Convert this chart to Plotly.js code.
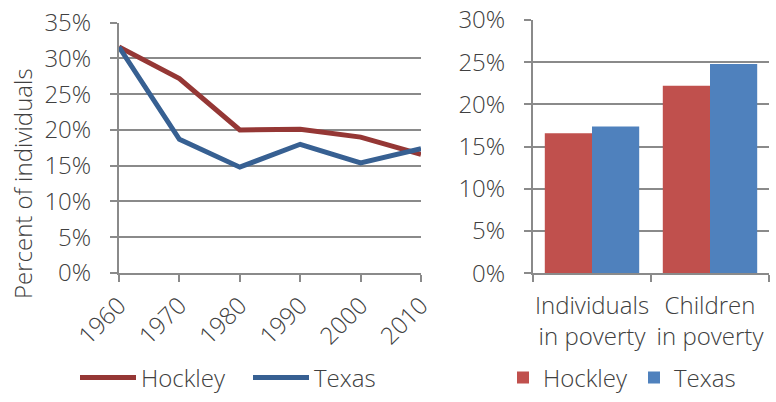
<!DOCTYPE html>
<html><head><meta charset="utf-8">
<script src="https://cdn.plot.ly/plotly-3.0.1.min.js"></script>
<style>html,body{margin:0;padding:0;background:#fff}#chart{width:776px;height:402px}</style>
</head><body><div id="chart"></div>
<script>
const years = [1960, 1970, 1980, 1990, 2000, 2010];
const hockleyTrend = [0.316, 0.272, 0.200, 0.201, 0.190, 0.166];
const texasTrend = [0.316, 0.187, 0.148, 0.180, 0.154, 0.174];
const barCategories = ["Individuals<br>in poverty", "Children<br>in poverty"];
const hockleyBar = [0.166, 0.222];
const texasBar = [0.174, 0.248];
const seriesNames = ["Hockley", "Texas"];

const FONT = {family: "Open Sans, sans-serif", size: 24, color: "#404040", weight: 300};
const TICKFONT = {family: "Open Sans, sans-serif", size: 24, color: "#404040", weight: 300};
const GRID = "#8a8a8a";

const traces = [
  {x: years, y: hockleyTrend, name: seriesNames[0], type: "scatter", mode: "lines",
   line: {color: "#953735", width: 5}, xaxis: "x", yaxis: "y", legend: "legend", cliponaxis: false},
  {x: years, y: texasTrend, name: seriesNames[1], type: "scatter", mode: "lines",
   line: {color: "#376092", width: 5}, xaxis: "x", yaxis: "y", legend: "legend", cliponaxis: false},
  {x: barCategories, y: hockleyBar, name: seriesNames[0], type: "bar",
   marker: {color: "#C0504D"}, xaxis: "x2", yaxis: "y2", legend: "legend2"},
  {x: barCategories, y: texasBar, name: seriesNames[1], type: "bar",
   marker: {color: "#4F81BD"}, xaxis: "x2", yaxis: "y2", legend: "legend2"}
];

const axisCommon = {showline: true, linecolor: GRID, linewidth: 2, gridcolor: GRID, gridwidth: 2,
  ticks: "outside", tickcolor: GRID, tickwidth: 2, ticklen: 7, zeroline: false, tickfont: TICKFONT,
  fixedrange: true, automargin: false};

const layout = {
  width: 776, height: 402,
  margin: {l: 0, r: 0, t: 0, b: 0, autoexpand: false},
  paper_bgcolor: "#fff", plot_bgcolor: "#fff",
  font: FONT,
  showlegend: true,
  bargap: 0.2, bargroupgap: 0, barmode: "group",
  xaxis: Object.assign({}, axisCommon, {domain: [119/776, 421/776], range: [1960, 2010], dtick: 10,
    tickangle: -45, showgrid: false}),
  yaxis: Object.assign({}, axisCommon, {domain: [1 - 273/402, 1 - 22.7/402], range: [0, 0.35], dtick: 0.05,
    tickformat: ".0%", ticklabelstandoff: 14}),
  xaxis2: Object.assign({}, axisCommon, {domain: [533/776, 769/776], anchor: "y2", showgrid: false,
    tickson: "boundaries", tickangle: 0, ticklabelstandoff: 10}),
  yaxis2: Object.assign({}, axisCommon, {domain: [1 - 273.3/402, 1 - 20/402], range: [0, 0.30], dtick: 0.05,
    tickformat: ".0%", anchor: "x2", ticklabelstandoff: 14}),
  legend: {orientation: "h", x: 75/776, y: 1 - 378/402, xanchor: "left", yanchor: "middle",
    font: FONT, itemwidth: 56, entrywidth: 102, bgcolor: "rgba(0,0,0,0)"},
  legend2: {orientation: "h", x: 503/776, y: 1 - 378/402, xanchor: "left", yanchor: "middle",
    font: FONT, itemwidth: 30, entrywidth: 86, bgcolor: "rgba(0,0,0,0)"},
  annotations: [{text: "Percent of individuals", textangle: -90, xref: "paper", yref: "paper",
    x: 22/776, y: 1 - 184/402, xanchor: "center", yanchor: "middle", showarrow: false, font: FONT}]
};

Plotly.newPlot("chart", traces, layout, {displayModeBar: false, staticPlot: true});
</script></body></html>
